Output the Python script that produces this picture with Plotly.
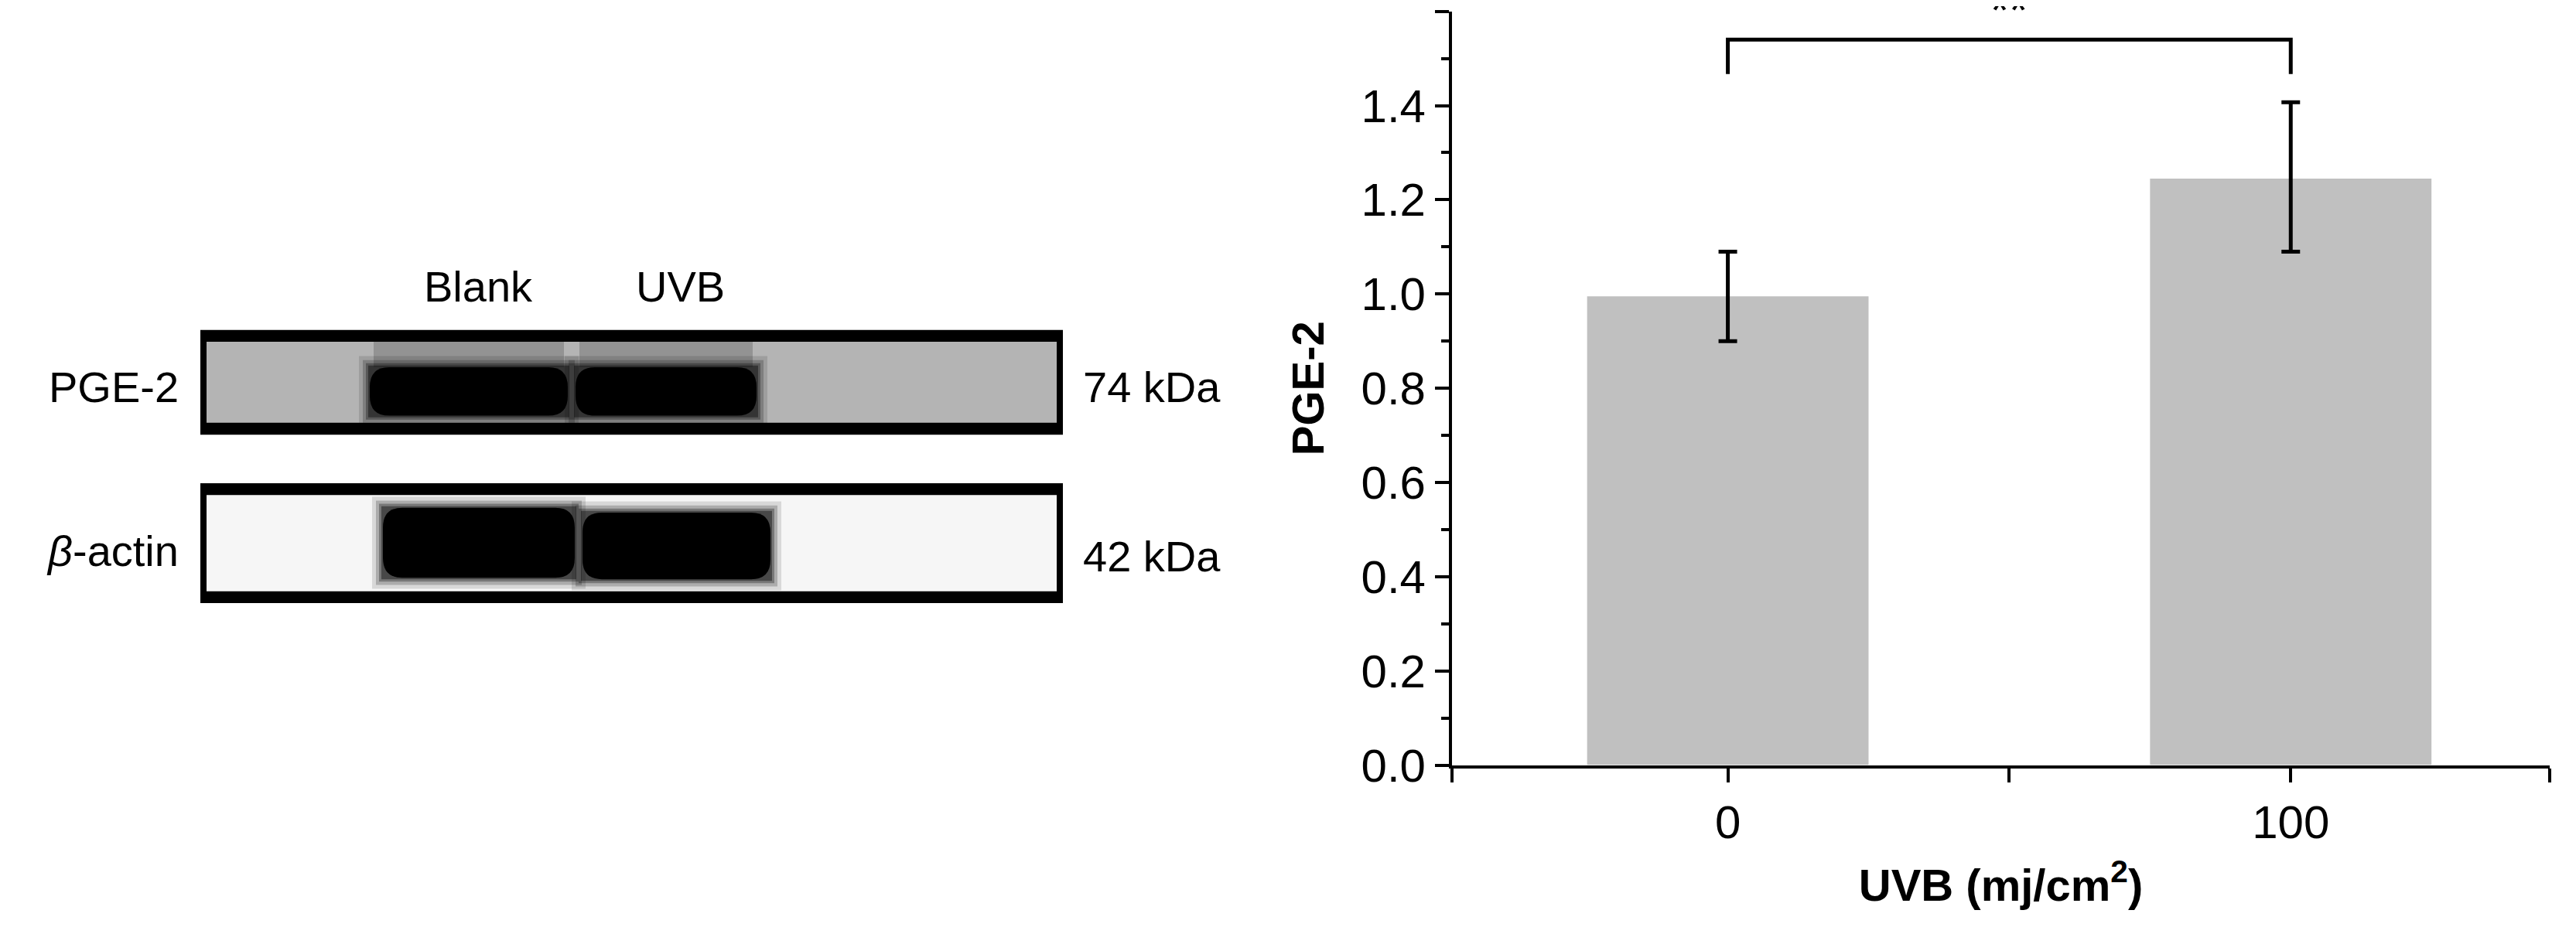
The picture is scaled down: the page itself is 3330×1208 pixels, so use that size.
import plotly.graph_objects as go

W, H = 3330, 1208
categories = ["0", "100"]
values = [0.995, 1.245]
err_plus = [0.095, 0.162]
err_minus = [0.095, 0.155]
yticks = [0.0, 0.2, 0.4, 0.6, 0.8, 1.0, 1.2, 1.4, 1.6]
sig_y = 1.54
sig_leg = 1.467

FONT = "Liberation Sans"

def px(x):
    return x / W
def py(y):
    y = (y - 40.5) / 0.946
    return 1 - y / H

xpos = list(range(len(categories)))
fig = go.Figure()
fig.add_trace(go.Bar(
    x=xpos, y=values, width=0.5, marker=dict(color="#c0c0c0", line=dict(width=0)),
    error_y=dict(type="data", symmetric=False, array=err_plus, arrayminus=err_minus,
                 color="black", thickness=5, width=12),
    showlegend=False))
fig.add_trace(go.Scatter(x=[0, 0, 1, 1], y=[sig_leg, sig_y, sig_y, sig_leg], mode="lines",
                         line=dict(color="black", width=5), showlegend=False, hoverinfo="skip"))
fig.add_annotation(x=0.5, y=sig_y, text="**", showarrow=False, yanchor="bottom", yshift=2,
                   font=dict(size=62, family=FONT, color="black"))

shapes = []
def box(x0, y0, x1, y1, fill):
    shapes.append(dict(type="rect", xref="paper", yref="paper", x0=px(x0), x1=px(x1),
                       y0=py(y0), y1=py(y1), fillcolor="black", line=dict(width=0), layer="above"))
    shapes.append(dict(type="rect", xref="paper", yref="paper", x0=px(x0 + 8), x1=px(x1 - 8),
                       y0=py(y0 + 15), y1=py(y1 - 15), fillcolor=fill, line=dict(width=0), layer="above"))

def band(x0, y0, x1, y1, smear=None):
    if smear:
        shapes.append(dict(type="rect", xref="paper", yref="paper", x0=px(x0 + 5), x1=px(x1 - 5),
                           y0=py(smear[0]), y1=py(smear[1]), fillcolor="rgba(0,0,0,0.18)",
                           line=dict(width=0), layer="above"))
    for g, a in [(14, 0.12), (9, 0.2), (5, 0.3), (2, 0.4)]:
        shapes.append(dict(type="rect", xref="paper", yref="paper", x0=px(x0 - g), x1=px(x1 + g),
                           y0=py(y0 - g), y1=py(y1 + g), fillcolor=f"rgba(0,0,0,{a})",
                           line=dict(width=0), layer="above"))
    shapes.append(dict(type="path", xref="paper", yref="paper", layer="above",
                       path=(f"M {px(x0+25)},{py(y0)} L {px(x1-25)},{py(y0)} Q {px(x1)},{py(y0)} {px(x1)},{py(y0+25)} "
                             f"L {px(x1)},{py(y1-25)} Q {px(x1)},{py(y1)} {px(x1-25)},{py(y1)} "
                             f"L {px(x0+25)},{py(y1)} Q {px(x0)},{py(y1)} {px(x0)},{py(y1-25)} "
                             f"L {px(x0)},{py(y0+25)} Q {px(x0)},{py(y0)} {px(x0+25)},{py(y0)} Z"),
                       fillcolor="black", line=dict(width=0)))

box(251, 448, 1366, 580, "#b4b4b4")
band(470, 495, 726, 556, smear=(463, 495))
band(736, 495, 970, 556, smear=(463, 495))
box(251, 641, 1366, 792, "#f6f6f6")
band(487, 672, 735, 760)
band(745, 678, 988, 762)

fig.update_layout(shapes=shapes)

ann = [("Blank", 610, 393, "center"), ("UVB", 871, 393, "center"),
       ("PGE-2", 225, 520, "right"), ("<i>β</i>-actin", 225, 726, "right"),
       ("74 kDa", 1390, 520, "left"), ("42 kDa", 1390, 733, "left")]
for t, x, y, xa in ann:
    fig.add_annotation(x=px(x), y=py(y), xref="paper", yref="paper", text=t, showarrow=False,
                       xanchor=xa, yanchor="middle", font=dict(size=56, family=FONT, color="black"))

fig.update_layout(
    width=W, height=H, margin=dict(l=0, r=0, t=0, b=0),
    paper_bgcolor="white", plot_bgcolor="white",
    font=dict(family=FONT, color="black", size=60),
    xaxis=dict(domain=[px(1869), px(3288)], range=[-0.49, 1.46],
               tickvals=[-0.49, 0, 0.5, 1, 1.46], ticktext=["", "0", "", "100", ""],
               ticks="outside", ticklen=18, tickwidth=4, tickcolor="black",
               showline=True, linewidth=4, linecolor="black", showgrid=False, zeroline=False,
               tickfont=dict(size=60),
               title=dict(text="<b>UVB (mj/cm<sup>2</sup>)</b>", font=dict(size=58), standoff=30)),
    yaxis=dict(domain=[py(996), py(47)], range=[0, 1.6], tickvals=yticks,
               ticktext=[f"{v:.1f}" for v in yticks],
               ticks="outside", ticklen=18, tickwidth=4, tickcolor="black",
               minor=dict(dtick=0.1, ticks="outside", ticklen=10, tickwidth=4, tickcolor="black"),
               showline=True, linewidth=4, linecolor="black", showgrid=False, zeroline=False,
               tickfont=dict(size=60),
               title=dict(text="<b>PGE-2</b>", font=dict(size=58), standoff=30)),
)
fig.write_html("out.html")
